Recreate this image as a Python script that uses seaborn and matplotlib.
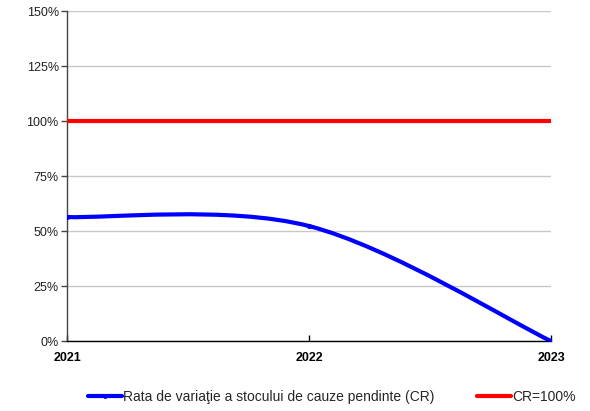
import numpy as np
import seaborn as sns
import matplotlib
matplotlib.use('Agg')
import matplotlib.pyplot as plt
from matplotlib.path import Path
from matplotlib.patches import PathPatch
from matplotlib.lines import Line2D

years = ['2021', '2022', '2023']
cr_values = [56.4, 52.3, 0.0]
cr_target = [100, 100, 100]
y_ticks = [0, 25, 50, 75, 100, 125, 150]

sns.set_theme(style='white')
plt.rcParams['font.family'] = ['Liberation Sans', 'DejaVu Sans']

fig = plt.figure(figsize=(5.9, 4.11), dpi=100)
ax = fig.add_axes([0.1136, 0.170, 0.8204, 0.803])

x = np.arange(len(years), dtype=float)
y = np.array(cr_values, dtype=float)

# smooth line like Excel: catmull-rom tangents -> cubic bezier segments
pts = np.column_stack([x, y])
tang = np.zeros_like(pts)
tang[0] = (pts[1] - pts[0]) / 2
tang[-1] = (pts[-1] - pts[-2]) / 2
for i in range(1, len(pts) - 1):
    tang[i] = (pts[i + 1] - pts[i - 1]) / 2
verts = [tuple(pts[0])]
codes = [Path.MOVETO]
for i in range(len(pts) - 1):
    verts += [tuple(pts[i] + tang[i] / 3), tuple(pts[i + 1] - tang[i + 1] / 3), tuple(pts[i + 1])]
    codes += [Path.CURVE4] * 3
ax.add_patch(PathPatch(Path(verts, codes), facecolor='none', edgecolor='#0000ff',
                       lw=3.0, capstyle='round', zorder=3))
sns.scatterplot(x=x, y=y, ax=ax, color='#0000ff', s=12, edgecolor='#0000ff', zorder=4, legend=False)

sns.lineplot(x=x, y=cr_target, ax=ax, color='#ff0000', lw=3.0, zorder=3, legend=False)

ax.set_xlim(0, 2)
ax.set_ylim(0, 150)
ax.set_yticks(y_ticks)
ax.set_yticklabels([f'{v}%' for v in y_ticks], fontsize=9, color='#222222')
ax.set_xticks(x)
ax.set_xticklabels(years, fontsize=9, fontweight='bold', color='black')
ax.yaxis.grid(True, color='#c8c8c8', lw=1)
ax.set_axisbelow(True)
for s in ['top', 'right']:
    ax.spines[s].set_visible(False)
ax.spines['left'].set_color('#444444')
ax.spines['bottom'].set_color('black')
ax.spines['left'].set_linewidth(1)
ax.spines['bottom'].set_linewidth(1)
ax.tick_params(axis='y', direction='out', length=4, width=1, color='#444444', pad=2, left=True)
ax.tick_params(axis='x', direction='in', length=4, width=1, color='black', pad=8, bottom=True)
ax.set_xlabel('')
ax.set_ylabel('')

handles = [Line2D([], [], color='#0000ff', lw=3.0, marker='o', markersize=2.5),
           Line2D([], [], color='#ff0000', lw=3.0)]
labels = ['Rata de variaţie a stocului de cauze pendinte (CR)', 'CR=100%']
fig.legend(handles, labels, loc='center', bbox_to_anchor=(0.562, 0.034), ncol=2,
           frameon=False, fontsize=10, handlelength=2.45, handletextpad=0.05,
           columnspacing=3.1, numpoints=1)

fig.savefig('out.png', dpi=100)
